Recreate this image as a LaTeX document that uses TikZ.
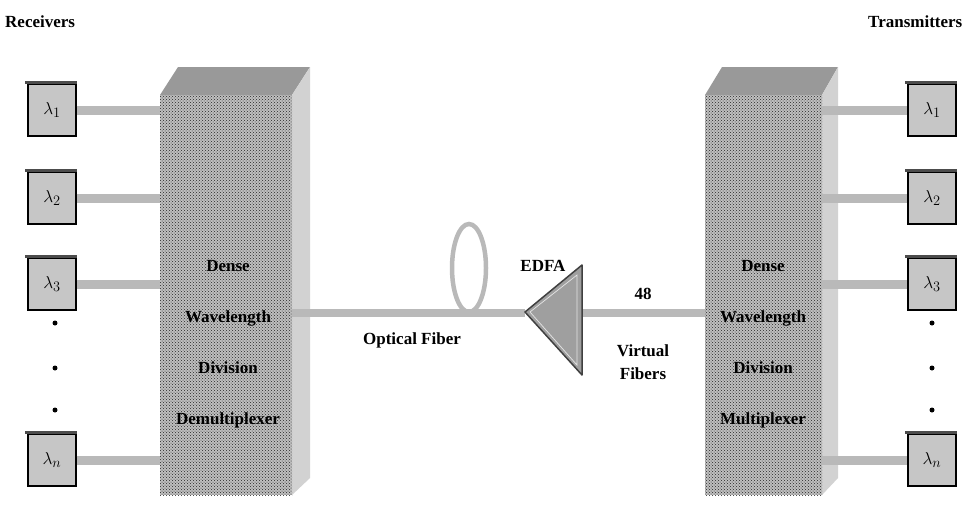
\documentclass[tikz,border=0pt]{standalone}
\usepackage{fontspec}
\setmainfont{Liberation Serif}
\usetikzlibrary{patterns}
\begin{document}
\begin{tikzpicture}[x=1pt,y=-1pt,
  lbl/.style={font=\bfseries\fontsize{17}{19}\selectfont,inner sep=0pt},
  lam/.style={draw=black,line width=1.2pt,fill=gray!45,minimum width=48pt,minimum height=52pt,font=\fontsize{19}{21}\selectfont,inner sep=0pt},
  bar/.style={draw=gray!55,line width=9pt},
  dot/.style={circle,fill=black,inner sep=0pt,minimum size=5pt}]
\useasboundingbox (0,0) rectangle (977,515);
% left block
\fill[gray!80] (160,95) -- (178,67) -- (310,67) -- (292,95) -- cycle;
\fill[gray!35] (292,95) -- (310,67) -- (310,478) -- (292,495) -- cycle;
\fill[gray!50] (160,95) rectangle (292,495);
\fill[pattern=crosshatch dots,pattern color=gray!30!black] (160,95) rectangle (292,495);
\node[coordinate] (L) at (292,313) {};
% right block
\fill[gray!80] (705,95) -- (722,67) -- (838,67) -- (822,95) -- cycle;
\fill[gray!35] (822,95) -- (838,67) -- (838,478) -- (822,495) -- cycle;
\fill[gray!50] (705,95) rectangle (822,495);
\fill[pattern=crosshatch dots,pattern color=gray!30!black] (705,95) rectangle (822,495);
\node[coordinate] (R) at (705,313) {};
% fibre bars
\foreach \n/\y/\t in {1/110/1,2/198/2,3/284/3,4/460/n}{
  \node[lam] (a\n) at (52,\y) {$\lambda_{\t}$};
  \fill[black!70] ([xshift=-2pt,yshift=2pt]a\n.north west) rectangle ([yshift=-1pt]a\n.north east);
  \coordinate (la\n) at (160,\y);
  \draw[bar] (a\n.east) -- (la\n);
  \node[lam] (b\n) at (932,\y) {$\lambda_{\t}$};
  \fill[black!70] ([xshift=-2pt,yshift=2pt]b\n.north west) rectangle ([yshift=-1pt]b\n.north east);
  \coordinate (rb\n) at (822,\y);
  \draw[bar] (rb\n) -- (b\n.west);
}
\foreach \y [count=\i] in {323,368,410}{
  \node[dot] (dl\i) at (55,\y) {};
  \node[dot] (dr\i) at (932,\y) {};
}
% fibre and amp
\coordinate (T) at (525,313);
\coordinate (A) at (582,313);
\draw[bar,line width=8pt] (L) -- (T);
\draw[bar,line width=8pt] (A) -- (R);
\draw[gray!55,line width=4.5pt] (469,268) ellipse (17 and 44);
\fill[gray!75] (525,312) -- (582,265) -- (582,375) -- cycle;
\draw[gray!50!black,line width=1.5pt,line join=round] (525,312) -- (582,265) -- (582,375) -- cycle;
\draw[white!80!gray,line width=0.7pt] (530,312) -- (577,275) -- (577,365) -- cycle;
% labels
\node[lbl,anchor=west] (rec) at (5,22) {Receivers};
\node[lbl,anchor=west] (tra) at (868,22) {Transmitters};
\node[lbl,align=center] (t1) at (228,344) {Dense\\[32pt]Wavelength\\[32pt]Division\\[32pt]Demultiplexer};
\node[lbl,align=center] (t2) at (763,344) {Dense\\[32pt]Wavelength\\[32pt]Division\\[32pt]Multiplexer};
\node[lbl] (of) at (412,340) {Optical Fiber};
\node[lbl] (ed) at (543,266) {EDFA};
\node[lbl] (n48) at (643,294) {48};
\node[lbl,align=center] (vf) at (643,362) {Virtual\\[4pt]Fibers};
\end{tikzpicture}
\end{document}
